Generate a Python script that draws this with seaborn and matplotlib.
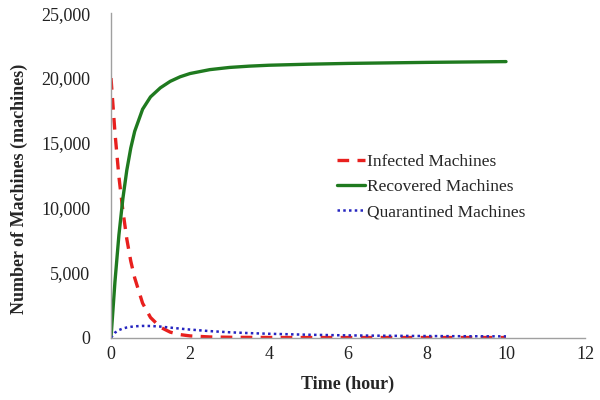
import matplotlib
matplotlib.use("Agg")
import matplotlib.pyplot as plt
import seaborn as sns
import pandas as pd
from matplotlib.ticker import FuncFormatter

time_hours = [0, 0.1, 0.2, 0.3, 0.4, 0.5, 0.6, 0.8, 1.0, 1.25, 1.5, 1.75, 2, 2.5, 3, 3.5, 4, 5, 6, 7, 8, 9, 10]
infected = [20000, 15800, 12400, 9800, 7600, 5900, 4600, 2650, 1550, 800, 420, 230, 130, 50, 25, 15, 10, 5, 5, 5, 5, 5, 5]
recovered = [0, 4300, 7900, 10700, 12900, 14600, 15900, 17600, 18550, 19250, 19750, 20100, 20350, 20650, 20820, 20920, 20990, 21070, 21130, 21170, 21210, 21240, 21270]
quarantined = [0, 380, 580, 700, 780, 830, 870, 900, 895, 850, 770, 690, 620, 500, 410, 345, 295, 220, 170, 140, 120, 105, 95]

series_names = ["Infected Machines", "Recovered Machines", "Quarantined Machines"]
x_ticks = [0, 2, 4, 6, 8, 10, 12]
y_ticks = [0, 5000, 10000, 15000, 20000, 25000]

sns.set_style("white")
plt.rcParams['font.family'] = ['Liberation Serif', 'DejaVu Serif']

fig = plt.figure(figsize=(6, 4), dpi=100)
ax = fig.add_axes([0.185, 0.156, 0.79, 0.811])

df = pd.DataFrame({"t": time_hours, series_names[0]: infected,
                   series_names[1]: recovered, series_names[2]: quarantined})

styles = [
    dict(color="#e8201e", linestyle=(0, (3.5, 2.5)), linewidth=2.4),
    dict(color="#1f7a1f", linestyle="-", linewidth=2.4),
    dict(color="#2626c0", linestyle=(0, (1, 1.3)), linewidth=1.8),
]
for name, st in zip(series_names, styles):
    sns.lineplot(data=df, x="t", y=name, ax=ax, label=name, **st)

ax.set_xlim(0, 12)
ax.set_ylim(0, 25000)
ax.set_xticks(x_ticks)
ax.set_yticks(y_ticks)
ax.yaxis.set_major_formatter(FuncFormatter(lambda v, p: f"{int(v):,}"))
ax.tick_params(axis="y", labelsize=13, length=0, pad=15, colors="#222222")
ax.tick_params(axis="x", labelsize=13, length=0, pad=6, colors="#222222")
ax.set_xlabel("Time (hour)", fontsize=13, fontweight="bold", labelpad=9)
ax.set_ylabel("Number of Machines (machines)", fontsize=13, fontweight="bold", labelpad=8)
ax.yaxis.set_label_coords(-0.175, 0.46)

for s in ["top", "right"]:
    ax.spines[s].set_visible(False)
for s in ["left", "bottom"]:
    ax.spines[s].set_color("#a0a0a0")
    ax.spines[s].set_linewidth(1.0)

ax.legend(loc="upper left", bbox_to_anchor=(0.550, 0.633), bbox_transform=fig.transFigure,
          frameon=False, fontsize=12.5, handlelength=1.6, handletextpad=0.15,
          labelspacing=0.52, borderaxespad=0)

fig.savefig("out.png", dpi=100)
